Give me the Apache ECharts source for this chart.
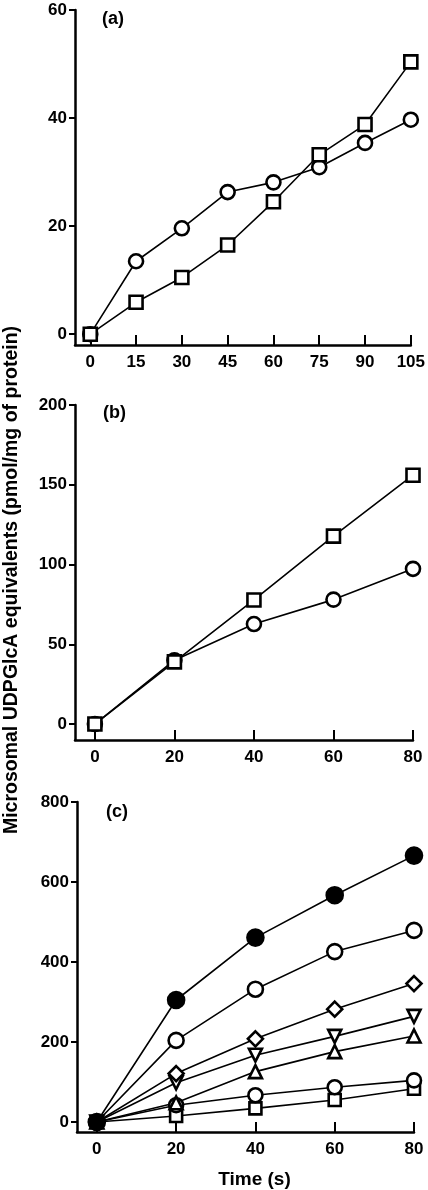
<!DOCTYPE html>
<html>
<head>
<meta charset="utf-8">
<script src="https://cdn.jsdelivr.net/npm/echarts@6/dist/echarts.min.js"></script>
<style>
html,body{margin:0;padding:0;background:#fff;}
#chart{width:428px;height:1190px;}
</style>
</head>
<body>
<div id="chart"></div>
<script>
// Panel (a)
var timeA = [0, 15, 30, 45, 60, 75, 90, 105];
var aCircle = [0, 13.5, 19.6, 26.3, 28.1, 30.9, 35.4, 39.7];
var aSquare = [0, 5.9, 10.5, 16.5, 24.5, 33.2, 38.8, 50.4];
var ticksAx = [0, 15, 30, 45, 60, 75, 90, 105];
var ticksAy = [0, 20, 40, 60];

// Panel (b)
var timeB = [0, 20, 40, 60, 80];
var bCircle = [0, 40, 62.7, 78, 97.3];
var bSquare = [0, 39, 77.8, 117.8, 156];
var ticksBx = [0, 20, 40, 60, 80];
var ticksBy = [0, 50, 100, 150, 200];

// Panel (c)
var timeC = [0, 20, 40, 60, 80];
var cFilledCircle = [0, 305, 461, 567, 666];
var cOpenCircle = [0, 204, 332, 426, 479];
var cDiamond = [0, 121, 208, 282, 346];
var cDownTriangle = [0, 98, 167, 214, 264];
var cUpTriangle = [0, 48, 126, 176, 215];
var cSmallCircle = [0, 42, 67, 87, 104];
var cSquare = [0, 15, 34, 55, 83];
var ticksCx = [0, 20, 40, 60, 80];
var ticksCy = [0, 200, 400, 600, 800];

var yLabel = 'Microsomal UDPGlcA equivalents (pmol/mg of protein)';
var panelLabels = ['(a)', '(b)', '(c)'];

var FONT = '"Liberation Sans", Arial, sans-serif';

function pairs(xs, ys) { return xs.map(function (x, i) { return [x, ys[i]]; }); }

function xAx(idx, min, max, ticks, name) {
  return {
    type: 'value', gridIndex: idx, min: min, max: max,
    axisLine: { show: true, onZero: false, lineStyle: { color: '#000', width: 2.5 } },
    axisTick: { show: true, inside: true, length: 10, customValues: ticks, lineStyle: { color: '#000', width: 2 } },
    axisLabel: { customValues: ticks, color: '#000', fontSize: 17, fontWeight: 'bold', fontFamily: FONT, margin: 9 },
    splitLine: { show: false },
    name: name || '', nameLocation: 'middle', nameGap: 38,
    nameTextStyle: { color: '#000', fontSize: 19, fontWeight: 'bold', fontFamily: FONT, padding: [0, 0, 0, 18] }
  };
}
function yAx(idx, min, max, ticks) {
  return {
    type: 'value', gridIndex: idx, min: min, max: max,
    axisLine: { show: true, onZero: false, lineStyle: { color: '#000', width: 2.5 } },
    axisTick: { show: true, inside: false, length: 6, customValues: ticks, lineStyle: { color: '#000', width: 2 } },
    axisLabel: { customValues: ticks, color: '#000', fontSize: 17, fontWeight: 'bold', fontFamily: FONT, margin: 8 },
    splitLine: { show: false }
  };
}
function ser(idx, xs, ys, symbol, size, filled, rotate) {
  return {
    type: 'line', xAxisIndex: idx, yAxisIndex: idx,
    data: pairs(xs, ys),
    symbol: symbol, symbolSize: size, symbolRotate: rotate || 0,
    showAllSymbol: true,
    lineStyle: { color: '#000', width: 1.6 },
    itemStyle: { color: filled ? '#000' : '#fff', borderColor: '#000', borderWidth: 2.6 },
    animation: false, silent: true
  };
}

var titleStyle = { fontSize: 18, fontWeight: 'bold', fontFamily: FONT, color: '#000' };

var chart = echarts.init(document.getElementById('chart'), null, { renderer: 'canvas' });
chart.setOption({
  backgroundColor: '#fff',
  animation: false,
  grid: [
    { left: 75, top: 10, width: 337, height: 335 },
    { left: 75, top: 405, width: 338, height: 335 },
    { left: 77, top: 802, width: 337, height: 338 }
  ],
  title: [
    { text: panelLabels[0], left: 97, top: 5, textStyle: titleStyle },
    { text: panelLabels[1], left: 98, top: 399, textStyle: titleStyle },
    { text: panelLabels[2], left: 101, top: 798, textStyle: titleStyle }
  ],
  graphic: [
    {
      type: 'text', x: 12, y: 580, rotation: Math.PI / 2,
      style: { text: yLabel, fill: '#000', font: 'bold 19.5px ' + FONT, align: 'center', verticalAlign: 'middle' }
    }
  ],
  xAxis: [
    xAx(0, -5, 105, ticksAx),
    xAx(1, -5, 80, ticksBx),
    xAx(2, -5, 80, ticksCx, 'Time (s)')
  ],
  yAxis: [
    yAx(0, -2, 60, ticksAy),
    yAx(1, -10, 200, ticksBy),
    yAx(2, -25, 800, ticksCy)
  ],
  series: [
    ser(0, timeA, aCircle, 'circle', 14, false),
    ser(0, timeA, aSquare, 'rect', 13, false),
    ser(1, timeB, bCircle, 'circle', 14, false),
    ser(1, timeB, bSquare, 'rect', 13, false),
    ser(2, timeC, cSquare, 'rect', 12, false),
    ser(2, timeC, cSmallCircle, 'circle', 14, false),
    ser(2, timeC, cUpTriangle, 'triangle', 13, false),
    ser(2, timeC, cDownTriangle, 'triangle', 13, false, 180),
    ser(2, timeC, cDiamond, 'diamond', 15, false),
    ser(2, timeC, cOpenCircle, 'circle', 15, false),
    ser(2, timeC, cFilledCircle, 'circle', 16, true)
  ]
});
</script>
</body>
</html>
